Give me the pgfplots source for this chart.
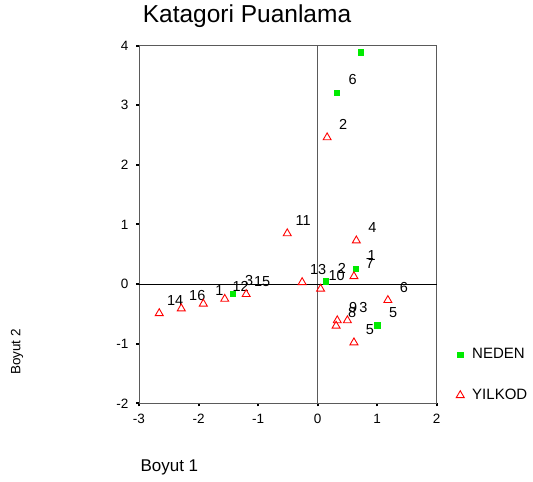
\documentclass[border=0pt]{standalone}
\usepackage{pgfplots}
\pgfplotsset{compat=1.18}
\usepackage{fontspec}
\setmainfont{Liberation Sans}
\definecolor{ngreen}{RGB}{0,235,0}
\definecolor{ybox}{RGB}{90,90,90}
\begin{document}
\begin{tikzpicture}
\path[use as bounding box] (0pt,0pt) rectangle (533pt,482pt);
\begin{axis}[
  at={(139pt,78.7pt)}, anchor=south west,
  scale only axis, width=297.7pt, height=357.6pt,
  xmin=-3, xmax=2, ymin=-2, ymax=4,
  xtick={-3,-2,-1,0,1,2}, ytick={-2,-1,0,1,2,3,4},
  xtick pos=left, ytick pos=left,
  tick align=outside, major tick length=3pt,
  tick style={black, line width=2pt},
  axis line style={ybox, line width=0.9pt},
  /pgf/number format/assume math mode=true,
  tick label style={font=\fontsize{13.5}{15}\selectfont},
  yticklabel style={xshift=-4pt},
  xticklabel style={yshift=-4pt},
  clip=false,
  legend style={draw=none, fill=none, at={(1.055,0.165)}, anchor=north west,
    font=\fontsize{15}{17}\selectfont, row sep=25pt},
  legend cell align=left,
  legend image code/.code={\draw[#1] plot coordinates {(0pt,0pt)};},
]
\addplot[ybox, line width=1.2pt, no marks, forget plot] coordinates {(0,-2) (0,4)};
\addplot[black, line width=0.9pt, no marks, forget plot] coordinates {(-3,0) (2,0)};
\addplot[only marks, mark=square*, mark size=2.6pt, mark options={fill=ngreen, draw=ngreen},
  nodes near coords, point meta=explicit symbolic,
  every node near coord/.append style={anchor=center, xshift=16pt, yshift=13pt,
    font=\fontsize{14.5}{16}\selectfont, text=black, inner sep=0pt}]
  table[meta=lab] {
x y lab
0.32 3.21 6
0.64 0.26 1
0.14 0.05 2
1.00 -0.69 5
-1.42 -0.16 3
};
\addlegendentry{\hspace{6pt}NEDEN}
\addplot[only marks, mark=triangle, mark size=4.6pt, mark options={draw=red, line width=0.9pt},
  nodes near coords, point meta=explicit symbolic,
  every node near coord/.append style={anchor=center, xshift=16pt, yshift=13pt,
    font=\fontsize{14.5}{16}\selectfont, text=black, inner sep=0pt}]
  table[meta=lab] {
x y lab
0.16 2.46 2
-0.51 0.85 11
0.65 0.73 4
0.61 0.13 7
-0.26 0.03 13
0.05 -0.08 10
1.18 -0.27 6
0.50 -0.61 3
0.33 -0.61 9
0.31 -0.70 8
0.61 -0.98 5
-2.66 -0.49 14
-2.29 -0.41 16
-1.92 -0.33 1
-1.56 -0.25 12
-1.20 -0.17 15
};
\addlegendentry{\hspace{6pt}YILKOD}
\addplot[only marks, mark=square*, mark size=2.6pt, mark options={fill=ngreen, draw=ngreen}, forget plot]
  coordinates {(0.72,3.89)};
\end{axis}
\node[anchor=base, font=\fontsize{24.5}{28}\selectfont] at (247pt,459pt) {Katagori Puanlama};
\node[anchor=base west, font=\fontsize{17}{19}\selectfont] at (137pt,10pt) {Boyut 1};
\node[rotate=90, font=\fontsize{13.5}{15}\selectfont] at (17pt,130pt) {Boyut 2};
\end{tikzpicture}
\end{document}
